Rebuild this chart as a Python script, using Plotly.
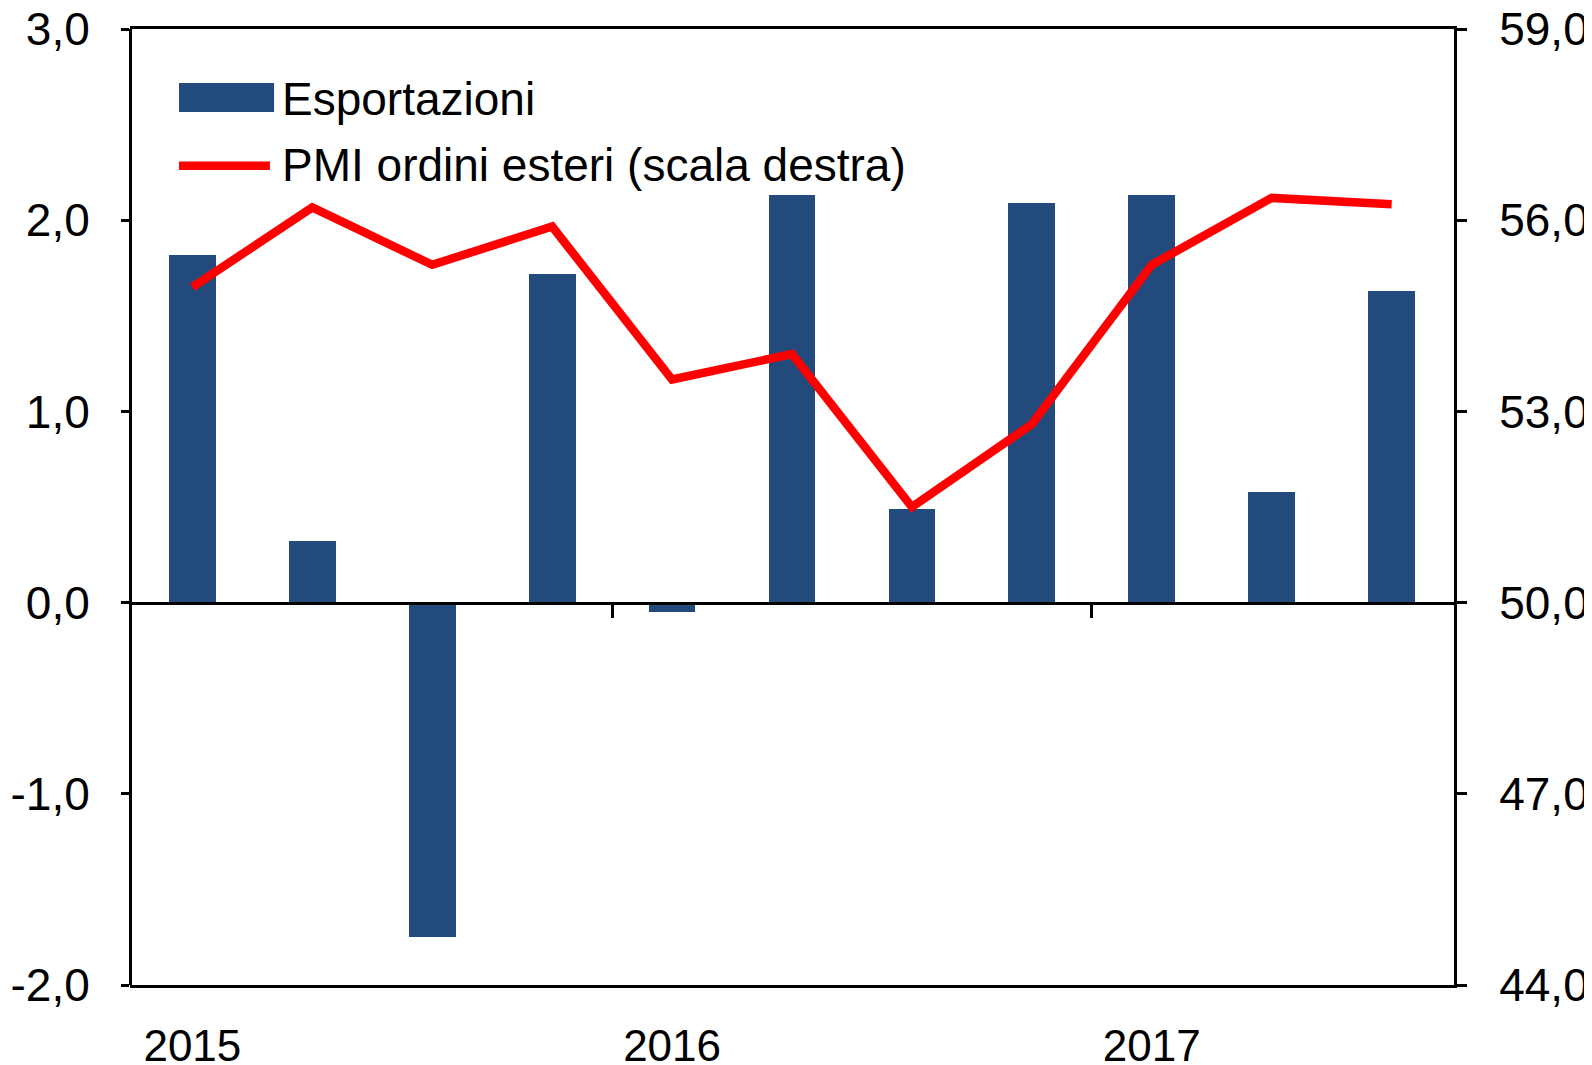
import plotly.graph_objects as go

# Quarterly data 2015 Q1 - 2017 Q3
quarters = ["2015 T1", "2015 T2", "2015 T3", "2015 T4",
            "2016 T1", "2016 T2", "2016 T3", "2016 T4",
            "2017 T1", "2017 T2", "2017 T3"]
esportazioni = [1.82, 0.32, -1.75, 1.72, -0.05, 2.13, 0.49, 2.09, 2.13, 0.58, 1.63]
pmi_ordini_esteri = [54.95, 56.2, 55.3, 55.9, 53.5, 53.9, 51.5, 52.8, 55.3, 56.35, 56.25]

years = ["2015", "2016", "2017"]
year_pos = [0, 4, 8]
year_breaks = [3.5, 7.5]

left_ticks = [-2, -1, 0, 1, 2, 3]
left_labels = ["-2,0", "-1,0", "0,0", "1,0", "2,0", "3,0"]
right_ticks = [44, 47, 50, 53, 56, 59]
right_labels = ["44,0", "47,0", "50,0", "53,0", "56,0", "59,0"]

BLUE = "#224A7D"
RED = "#FF0000"
FONT = "Liberation Sans, Arial, sans-serif"

xpos = list(range(len(quarters)))
xrange = [-0.52, len(quarters) - 0.48]

fig = go.Figure()

fig.add_trace(go.Bar(
    x=xpos, y=esportazioni, name="Esportazioni",
    width=0.39, marker=dict(color=BLUE, line=dict(width=0)),
    xaxis="x", yaxis="y", showlegend=False
))

fig.add_trace(go.Scatter(
    x=xpos, y=pmi_ordini_esteri, name="PMI ordini esteri (scala destra)",
    mode="lines", line=dict(color=RED, width=8.5),
    xaxis="x2", yaxis="y2", showlegend=False
))

# hand-made legend (Excel style, long swatches)
fig.add_shape(type="rect", xref="paper", yref="paper",
              x0=0.037, x1=0.1088, y0=0.9132, y1=0.9435,
              fillcolor=BLUE, line=dict(width=0))
fig.add_shape(type="line", xref="paper", yref="paper",
              x0=0.037, x1=0.1057, y0=0.857, y1=0.857,
              line=dict(color=RED, width=8.5))
fig.add_annotation(text="Esportazioni", xref="paper", yref="paper",
                   x=0.1133, y=0.9273, xanchor="left", yanchor="middle",
                   showarrow=False, font=dict(size=46, color="black", family=FONT))
fig.add_annotation(text="PMI ordini esteri (scala destra)", xref="paper", yref="paper",
                   x=0.1133, y=0.8577, xanchor="left", yanchor="middle",
                   showarrow=False, font=dict(size=46, color="black", family=FONT))

# page body adds an 8px offset, so the figure is 8px smaller and shifted
fig.update_layout(
    width=1584, height=1057,
    margin=dict(l=122, r=138, t=21, b=80),
    plot_bgcolor="white", paper_bgcolor="white",
    font=dict(family=FONT, size=46, color="black"),
    bargap=0,
    # axis on the zero line, with year-break ticks
    xaxis=dict(
        range=xrange, anchor="free", position=0.4, automargin=False,
        showline=True, linecolor="black", linewidth=3,
        ticks="outside", tickvals=year_breaks, ticklen=13, tickwidth=3, tickcolor="black",
        showticklabels=False, showgrid=False, zeroline=False,
    ),
    # bottom frame with the year labels
    xaxis2=dict(
        range=xrange, overlaying="x", anchor="y", side="bottom", automargin=False,
        showline=True, mirror=True, linecolor="black", linewidth=3,
        ticks="", tickvals=year_pos, ticktext=years, tickfont=dict(size=44),
        ticklabelstandoff=20, ticklabeloverflow="allow",
        showgrid=False, zeroline=False,
    ),
    yaxis=dict(
        range=[-2, 3], anchor="free", position=0, automargin=False,
        showline=True, linecolor="black", linewidth=3,
        ticks="outside", tickvals=left_ticks, ticktext=left_labels,
        ticklen=8, tickwidth=2.5, tickcolor="black", ticklabelstandoff=22,
        ticklabeloverflow="allow", showgrid=False, zeroline=False,
    ),
    yaxis2=dict(
        range=[44, 59], overlaying="y", side="right", anchor="x2", automargin=False,
        showline=True, linecolor="black", linewidth=3,
        ticks="outside", tickvals=right_ticks, ticktext=right_labels,
        ticklen=10, tickwidth=2.5, tickcolor="black", ticklabelstandoff=23,
        ticklabeloverflow="allow", showgrid=False, zeroline=False,
    ),
)

fig.write_html("out.html")
